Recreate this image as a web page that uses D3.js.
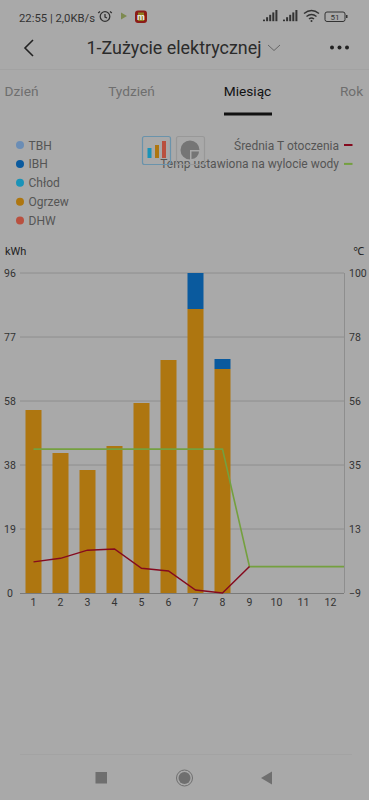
<!DOCTYPE html>
<html><head><meta charset="utf-8">
<script src="https://cdnjs.cloudflare.com/ajax/libs/d3/7.8.5/d3.min.js"></script>
<style>html,body{margin:0;padding:0;background:#a9a9a9;overflow:hidden}svg{display:block}text{font-family:Roboto,"Noto Sans",sans-serif}</style>
</head><body><svg id="c" width="369" height="800"></svg>
<script>
const months = ["1","2","3","4","5","6","7","8","9","10","11","12"];
const ogrzew = [54.9,42,36.9,44.1,57,69.9,85.2,67.2,0,0,0,0];
const ibh    = [0,0,0,0,0,0,10.8,3,0,0,0,0];
const avgTemp = [1.6,2.8,5.6,6,-0.6,-1.5,-8,-9,0];
const setTemp = [40,40,40,40,40,40,40,40,0,0,0,0];
const leftTicks = [0,19.2,38.4,57.6,76.8,96];
const rightTicks = [-9,12.8,34.6,56.4,78.2,100];
const barLegend = [["TBH","#6b8db5"],["IBH","#0a5a9e"],["Chłod","#1a93b8"],["Ogrzew","#ae7610"],["DHW","#b9503f"]];
const lineLegend = [["Średnia T otoczenia","#850a1e"],["Temp ustawiona na wylocie wody","#74a03f"]];
const tabs = [["Dzień",21.5,"#6e6e6e"],["Tydzień",131.5,"#6e6e6e"],["Miesiąc",247.5,"#111"],["Rok",351.5,"#6e6e6e"]];

const svg = d3.select("#c");
const x = d3.scaleBand().domain(months).range([20,344]);
const yL = d3.scaleLinear().domain([0,96]).range([593,273]);
const yR = d3.scaleLinear().domain([-9,100]).range([593,273]);
const txt = (s,px,py,size,fill,anchor="start",weight=400)=>svg.append("text").attr("x",px).attr("y",py).attr("font-size",size).attr("fill",fill).attr("text-anchor",anchor).attr("font-weight",weight).text(s);

// status bar
txt("22:55 | 2,0KB/s",19,21.5,11.3,"#333");
const clock=svg.append("g").attr("fill","none").attr("stroke","#333").attr("stroke-width",1.3);
clock.append("circle").attr("cx",105).attr("cy",16.5).attr("r",4.8);
clock.append("path").attr("d","M105 14v3l2 1M100 11.5l-1.8 1.6M110 11.5l1.8 1.6");
svg.append("path").attr("d","M121 12.5l6 3.5-6 3.5z").attr("fill","#7d8a50");
svg.append("rect").attr("x",135).attr("y",10.5).attr("width",12).attr("height",12.5).attr("rx",3).attr("fill","#8c1c18");
svg.append("rect").attr("x",138).attr("y",12.5).attr("width",6).attr("height",8.5).attr("fill","#8f7d20");
txt("m",141,19.5,9,"#eee","middle",700);
[[263,0],[283,0]].forEach(([sx])=>{[0,1,2,3,4].forEach(i=>svg.append("rect").attr("x",sx+i*3.1).attr("y",19.6-i*2.4).attr("width",2).attr("height",1.6+i*2.4).attr("fill","#333"));});
svg.append("path").attr("d","M304 13.5q7.5-6 15 0M306.5 16.5q5-4 10 0M309 19q2.5-2 5 0").attr("fill","none").attr("stroke","#333").attr("stroke-width",1.5);
svg.append("circle").attr("cx",311.5).attr("cy",21).attr("r",1).attr("fill","#333");
svg.append("rect").attr("x",325).attr("y",12).attr("width",20).attr("height",9.5).attr("rx",2).attr("fill","none").attr("stroke","#333");
svg.append("rect").attr("x",346).attr("y",15).attr("width",1.5).attr("height",3).attr("fill","#333");
txt("51",335,20,8,"#333","middle");

// header
svg.append("path").attr("d","M33 40l-8 8 8 8").attr("fill","none").attr("stroke","#222").attr("stroke-width",1.6);
txt("1-Zużycie elektrycznej",174,54,17.9,"#2b2b2b","middle");
svg.append("path").attr("d","M268 45l6 5.5 6-5.5").attr("fill","none").attr("stroke","#666").attr("stroke-width",1);
[332,339.5,347].forEach(cx=>svg.append("circle").attr("cx",cx).attr("cy",47.5).attr("r",2).attr("fill","#222"));
svg.append("line").attr("x1",0).attr("x2",369).attr("y1",69.5).attr("y2",69.5).attr("stroke","#a2a2a2");
tabs.forEach(t=>txt(t[0],t[1],96,13.7,t[2],"middle"));
svg.append("rect").attr("x",224).attr("y",112.5).attr("width",48).attr("height",3).attr("fill","#111");

// legends
barLegend.forEach((d,i)=>{
  const py=145+i*18.9;
  svg.append("circle").attr("cx",20).attr("cy",py).attr("r",4).attr("fill",d[1]);
  txt(d[0],28.5,py+4.5,12,"#555");
});
lineLegend.forEach((d,i)=>{
  const py=145+i*18.9;
  txt(d[0],339,py+4.5,12,"#555","end");
  svg.append("rect").attr("x",344).attr("y",py-1).attr("width",8.5).attr("height",2).attr("fill",d[1]);
});

// toggle icons
svg.append("rect").attr("x",142.5).attr("y",136.5).attr("width",28).attr("height",28).attr("rx",2).attr("fill","none").attr("stroke","#6a93ab").attr("stroke-width",1.2);
[[147.5,148,4,10,"#1a93b8"],[155,145,4,13,"#ae7610"],[162,141,4,17,"#b9503f"]].forEach(r=>svg.append("rect").attr("x",r[0]).attr("y",r[1]).attr("width",r[2]).attr("height",r[3]).attr("fill",r[4]));
svg.append("rect").attr("x",176.5).attr("y",136.5).attr("width",28).attr("height",28).attr("rx",2).attr("fill","none").attr("stroke","#989898").attr("stroke-width",1.2);
svg.append("path").attr("d",d3.arc().innerRadius(0).outerRadius(9.5).startAngle(Math.PI).endAngle(2.5*Math.PI)()).attr("transform","translate(190,150)").attr("fill","#757575");
svg.append("path").attr("d",d3.arc().innerRadius(0).outerRadius(7.5).startAngle(Math.PI/2).endAngle(Math.PI)()).attr("transform","translate(191.5,151.5)").attr("fill","#757575");

// axes
txt("kWh",5,255,11,"#222");
txt("℃",359,255,11,"#222","middle");
const gl = svg.append("g").attr("transform","translate(20,0)").call(d3.axisLeft(yL).tickValues(leftTicks).tickSize(0).tickFormat(d3.format(".0f")));
gl.select(".domain").remove();
gl.selectAll("text").attr("x",-10).attr("font-size",10.5).attr("fill","#333").attr("font-family","Roboto").attr("text-anchor","middle");
const gr = svg.append("g").attr("transform","translate(344,0)").call(d3.axisRight(yR).tickValues(rightTicks).tickSize(0).tickFormat(d3.format(".0f")));
gr.select(".domain").remove();
gr.selectAll("text").attr("x",5).attr("font-size",10.5).attr("fill","#333").attr("font-family","Roboto");
const gx = svg.append("g").attr("transform","translate(0,593)").call(d3.axisBottom(x).tickSize(0));
gx.select(".domain").remove();
gx.selectAll("text").attr("y",6).attr("dy","0.71em").attr("font-size",10.5).attr("fill","#333").attr("font-family","Roboto");

svg.append("g").selectAll("line").data(leftTicks.slice(1)).join("line")
  .attr("x1",20).attr("x2",344).attr("y1",d=>yL(d)).attr("y2",d=>yL(d)).attr("stroke","#8e8e8e").attr("stroke-width",1);
svg.append("line").attr("x1",344.5).attr("x2",344.5).attr("y1",273).attr("y2",593).attr("stroke","#8e8e8e");

// bars
const bw=16;
const bx=m=>x(m)+x.bandwidth()/2-bw/2;
svg.append("g").selectAll("rect").data(months).join("rect")
  .attr("x",bx).attr("width",bw).attr("y",(m,i)=>yL(ogrzew[i])).attr("height",(m,i)=>yL(0)-yL(ogrzew[i])).attr("fill","#ae7610");
svg.append("g").selectAll("rect").data(months).join("rect")
  .attr("x",bx).attr("width",bw).attr("y",(m,i)=>yL(ogrzew[i]+ibh[i])).attr("height",(m,i)=>yL(0)-yL(ibh[i])).attr("fill","#0a5a9e");
svg.append("line").attr("x1",20).attr("x2",344).attr("y1",593.5).attr("y2",593.5).attr("stroke","#7a7a7a").attr("stroke-width",1.2);

// lines
const cx=i=>x(months[i])+x.bandwidth()/2;
const line=d3.line().x(d=>d[0]).y(d=>d[1]);
const greenPts=setTemp.map((v,i)=>[cx(i),yR(v)]);
greenPts.push([x.range()[1],yR(setTemp[setTemp.length-1])]);
svg.append("path").attr("d",line(greenPts)).attr("fill","none").attr("stroke","#74a03f").attr("stroke-width",1.6);
svg.append("path").attr("d",line(avgTemp.map((v,i)=>[cx(i),yR(v)]))).attr("fill","none").attr("stroke","#850a1e").attr("stroke-width",1.5);

// bottom nav
svg.append("line").attr("x1",20).attr("x2",352).attr("y1",754.5).attr("y2",754.5).attr("stroke","#a3a3a3");
svg.append("rect").attr("x",95.5).attr("y",772).attr("width",11.5).attr("height",11.5).attr("fill","#6f6f6f");
svg.append("circle").attr("cx",184.5).attr("cy",778).attr("r",8).attr("fill","none").attr("stroke","#6f6f6f").attr("stroke-width",1);
svg.append("circle").attr("cx",184.5).attr("cy",778).attr("r",6).attr("fill","#6f6f6f");
svg.append("path").attr("d","M272 771.5v13l-11-6.5z").attr("fill","#6f6f6f");
</script></body></html>
